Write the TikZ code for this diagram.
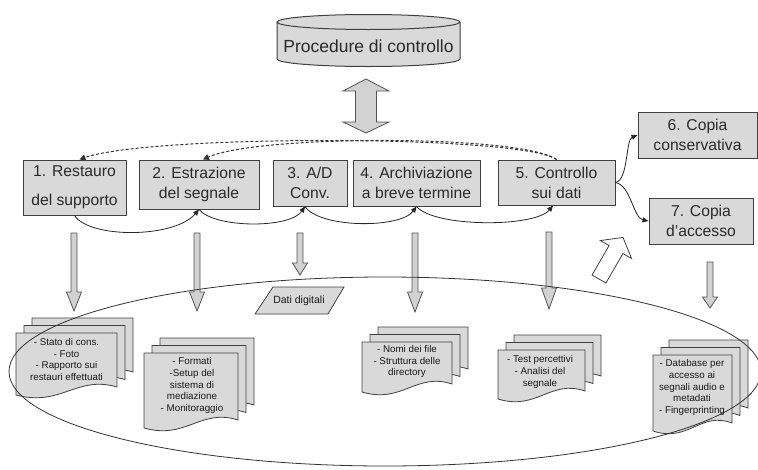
\documentclass[tikz,border=0pt]{standalone}
\usepackage{fontspec}
\setmainfont{Liberation Sans}
\usetikzlibrary{arrows.meta}
\definecolor{boxfill}{HTML}{D9D9D9}
\definecolor{arrfill}{HTML}{D2D2D2}
\definecolor{edge}{HTML}{404040}
\definecolor{txt}{HTML}{2A2A2A}
\tikzset{
  procbox/.style={draw=edge, fill=boxfill, line width=1pt, text=txt, align=center, inner sep=0pt,
    font=\fontsize{15.7}{20}\selectfont},
  blockarrow/.style={draw=edge!90, fill=arrfill, line width=0.8pt, line join=miter},
  hollowarrow/.style={draw=edge, fill=white, line width=0.8pt},
  docstyle/.style={draw=edge, fill=boxfill, line width=0.8pt},
  doctext/.style={text=black!90, align=center, inner sep=0pt, font=\fontsize{9.8}{11.7}\selectfont},
  conn/.style={draw=black!85, line width=0.8pt, -{Triangle[length=6pt,width=5pt]}},
  dashconn/.style={draw=black!80, line width=1pt, dash pattern=on 3pt off 2pt, -{Triangle[length=6pt,width=6pt]}},
  bigellipse/.style={draw=black!80, line width=0.8pt}
}
\newcommand\blockdown[4]{%
  \draw[blockarrow] (#1-3,#2) -- (#1+3,#2) -- (#1+3,#3) -- (#1+7.5,#3) -- (#1,#4) -- (#1-7.5,#3) -- (#1-3,#3) -- cycle;}
\newcommand\docpage[4]{%
  \draw[docstyle] (#1,#2) -- (#1+#3,#2) -- (#1+#3,#2+#4-8)
    .. controls (#1+0.6*#3,#2+#4-20) and (#1+0.45*#3,#2+#4+12) .. (#1,#2+#4) -- cycle;}
\newcommand\docstack[4]{\docpage{#1+16}{#2-15}{#3}{#4}\docpage{#1+8}{#2-7.5}{#3}{#4}\docpage{#1}{#2}{#3}{#4}}
\begin{document}
\begin{tikzpicture}[x=1pt,y=-1pt]
\useasboundingbox (0,0) rectangle (758,469);

% cylinder
\draw[docstyle, line width=1pt] (277,22) -- (277,59) arc[start angle=180, end angle=360, x radius=91.5pt, y radius=7.5pt] -- (460,22);
\draw[docstyle, line width=1pt] (368.5,22) ellipse [x radius=91.5pt, y radius=7.5pt];
\node[text=txt, font=\fontsize{17.5}{20}\selectfont] (proc) at (368.5,46) {Procedure di controllo};

% double arrow
\draw[blockarrow] (366,79) -- (389,91) -- (376.5,91) -- (376.5,122) -- (389,122) -- (366,133)
  -- (343,122) -- (355.5,122) -- (355.5,91) -- (343,91) -- cycle;

% process boxes
\node[procbox, minimum width=103pt, minimum height=55pt] (b1) at (74.5,187.5) {1. Restauro\\[9pt]del supporto};
\node[procbox, minimum width=120pt, minimum height=49pt] (b2) at (199,184.5) {2. Estrazione\\del segnale};
\node[procbox, minimum width=74pt, minimum height=46pt] (b3) at (310,183) {3. A/D\\Conv.};
\node[procbox, minimum width=127pt, minimum height=46pt] (b4) at (416.5,183) {4. Archiviazione\\a breve termine};
\node[procbox, minimum width=117pt, minimum height=45pt] (b5) at (556.5,182.5) {5. Controllo\\sui dati};
\node[procbox, minimum width=119pt, minimum height=46pt] (b6) at (697.5,135) {6. Copia\\conservativa};
\node[procbox, minimum width=104pt, minimum height=46pt] (b7) at (701,221) {7. Copia\\d’accesso};

% dashed feedback
\draw[dashconn] (b5.north) .. controls +(-35,-25) and +(70,-25) .. ([xshift=5pt]b1.north);
\draw[dashconn] (b5.north) .. controls +(-35,-25) and +(55,-25) .. ([xshift=4pt]b2.north);

% solid connectors
\draw[conn] (b1.south) .. controls +(15,23) and +(-25,29) .. (b2.south);
\draw[conn] (b2.south) .. controls +(16,19) and +(-15,22) .. ([xshift=-5pt]b3.south);
\draw[conn] ([xshift=-5pt]b3.south) .. controls +(15,22) and +(-16,22) .. (b4.south);
\draw[conn] (b4.south) .. controls +(18,21) and +(-18,22) .. ([xshift=-3.5pt]b5.south);
\draw[conn] (b5.east) .. controls +(13,-2.5) and +(-12,5) .. (b6.west);
\draw[conn] (b5.east) .. controls +(15,2.5) and +(-15,-3) .. (b7.west);

% down block arrows
\blockdown{74}{233}{292}{311}
\blockdown{197}{233}{292}{311}
\blockdown{300}{233}{263}{275}
\blockdown{415}{233}{292}{312}
\blockdown{549}{232}{288}{309}
\blockdown{710}{262}{297}{308}

% hollow arrow
\begin{scope}[shift={(599,279)}, rotate=60]
\draw[hollowarrow] (0,-8) -- (34,-8) -- (34,-18) -- (48,0) -- (34,18) -- (34,8) -- (0,8) -- cycle;
\end{scope}

% dati digitali
\draw[docstyle] (273,287) -- (344,287) -- (328,314) -- (255,314) -- cycle;
\node[doctext, font=\fontsize{10.5}{12}\selectfont] (dati) at (299,300.5) {Dati digitali};

% document stacks
\docstack{16}{333}{101}{62}
\node[doctext] (s1) at (66.5,359.5) {- Stato di cons.\\- Foto\\- Rapporto sui\\restauri effettuati};
\docstack{144}{353}{94}{75}
\node[doctext] (s2) at (192,385.5) {- Formati\\-Setup del\\sistema di\\mediazione\\- Monitoraggio};
\docstack{362}{342}{90}{50}
\node[doctext] (s3) at (407,361.5) {- Nomi dei file\\- Struttura delle\\directory};
\docstack{498}{350}{87}{49}
\node[doctext] (s4) at (540,372) {- Test percettivi\\- Analisi del\\segnale};
\docstack{653}{355}{79}{76}
\node[doctext] (s5) at (692,387.5) {- Database per\\accesso ai\\segnali audio e\\metadati\\- Fingerprinting};

% big ellipse
\draw[bigellipse] (385,371.5) ellipse [x radius=376pt, y radius=94.5pt];
\end{tikzpicture}
\end{document}
